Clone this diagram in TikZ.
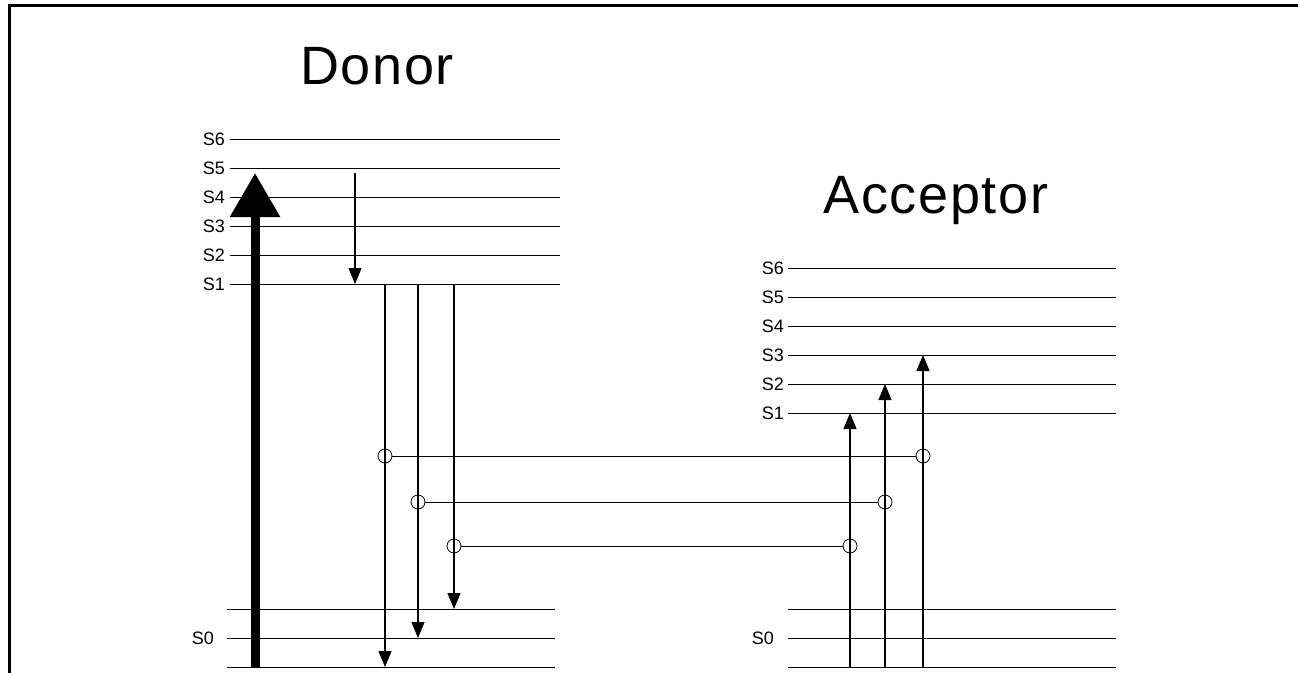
\documentclass[tikz,border=0pt]{standalone}
\usepackage{fontspec}
\setmainfont{Liberation Sans}
\usetikzlibrary{arrows.meta}
\begin{document}
\begin{tikzpicture}[x=1pt, y=-1pt]
\tikzstyle{every node}=[inner sep=0pt]
\tikzstyle{lvl}=[line width=0.9pt]
\tikzstyle{slab}=[anchor=east, font=\fontsize{18}{18}\selectfont]
\tikzstyle{ring}=[circle, draw, line width=0.8pt, minimum size=14pt]
\tikzstyle{trans}=[line width=1.1pt, -{Triangle[width=13pt,length=16pt]}]
\tikzstyle{title}=[anchor=base, font=\fontsize{54}{54}\selectfont\addfontfeature{LetterSpace=3}]
\useasboundingbox (0,0) rectangle (1298,672);
\draw[line width=3pt] (9,700) -- (9,5) -- (1400,5);

\node[title] (donor) at (377,84) {Donor};
\node[title] (acceptor) at (936,213) {Acceptor};

% donor levels
\foreach \n/\y in {1/284,2/255,3/226,4/197,5/168,6/139}{
  \coordinate (Dl\n) at (230,\y);
  \coordinate (Dr\n) at (560,\y);
  \node[slab] (DL\n) at (225,\y) {S\n};
  \draw[lvl] (Dl\n) -- (Dr\n);
}
\foreach \n/\y in {1/609,2/638,3/667}{
  \coordinate (Dgl\n) at (227,\y);
  \coordinate (Dgr\n) at (555,\y);
  \draw[lvl] (Dgl\n) -- (Dgr\n);
}
\node[slab] (DL0) at (214,638) {S0};

% acceptor levels
\foreach \n/\y in {1/413,2/384,3/355,4/326,5/297,6/268}{
  \coordinate (Al\n) at (788,\y);
  \coordinate (Ar\n) at (1116,\y);
  \node[slab] (AL\n) at (784,\y) {S\n};
  \draw[lvl] (Al\n) -- (Ar\n);
}
\foreach \n/\y in {1/609,2/638,3/667}{
  \coordinate (Agl\n) at (788,\y);
  \coordinate (Agr\n) at (1116,\y);
  \draw[lvl] (Agl\n) -- (Agr\n);
}
\node[slab] (AL0) at (774,638) {S0};

% excitation and relaxation
\coordinate (pump0) at (255,668);
\coordinate (pump1) at (255,173);
\draw[line width=9pt, -{Triangle[width=48pt,length=44pt]}] (pump0) -- (pump1);
\coordinate (relax0) at (355,173);
\coordinate (relax1) at (355,284);
\draw[trans] (relax0) -- (relax1);

% donor emission / acceptor absorption
\coordinate (dt1) at (385,284); \coordinate (db1) at (385,667);
\coordinate (dt2) at (418,284); \coordinate (db2) at (418,638);
\coordinate (dt3) at (454,284); \coordinate (db3) at (454,609);
\coordinate (ab1) at (850,667); \coordinate (at1) at (850,413);
\coordinate (ab2) at (885,667); \coordinate (at2) at (885,384);
\coordinate (ab3) at (923,667); \coordinate (at3) at (923,355);
\foreach \i/\j in {dt1/db1,dt2/db2,dt3/db3,ab1/at1,ab2/at2,ab3/at3}{\draw[trans] (\i) -- (\j);}

% coupling
\node[ring] (c1) at (385,456) {};
\node[ring] (c2) at (418,502) {};
\node[ring] (c3) at (454,546) {};
\node[ring] (c4) at (923,456) {};
\node[ring] (c5) at (885,502) {};
\node[ring] (c6) at (850,546) {};
\foreach \i/\j in {c1/c4,c2/c5,c3/c6}{\draw[line width=0.9pt] (\i) -- (\j);}
\end{tikzpicture}
\end{document}
